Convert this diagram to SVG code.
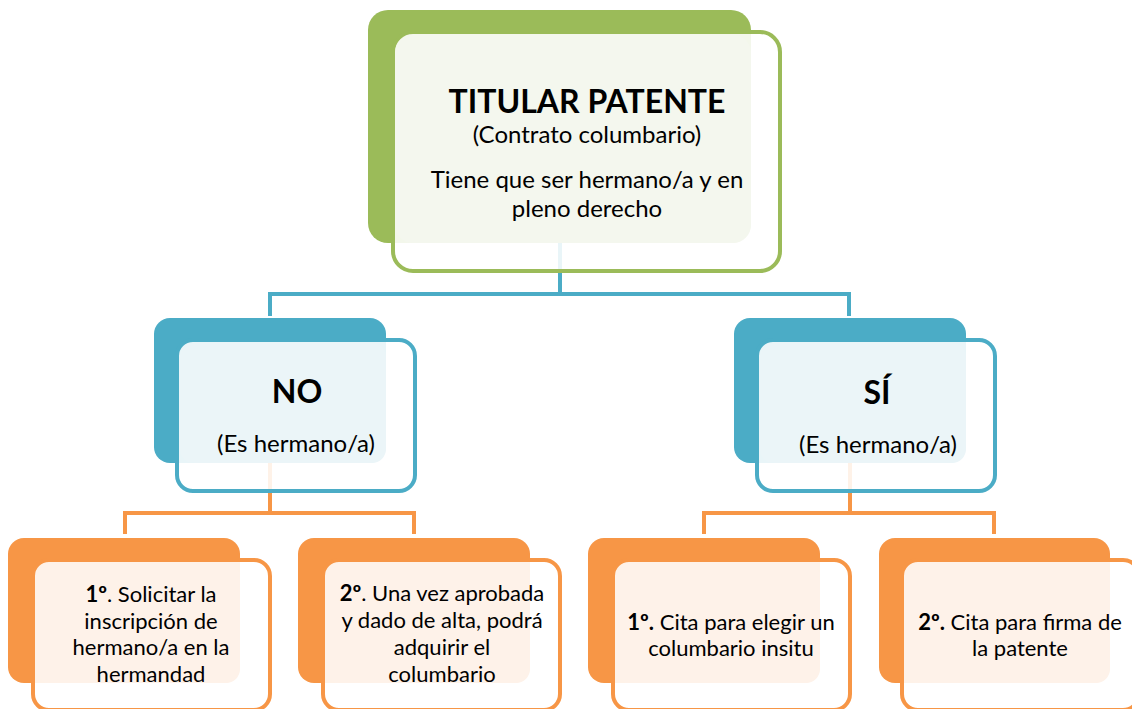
<svg xmlns="http://www.w3.org/2000/svg" width="1132" height="709" viewBox="0 0 1132 709">
<style>
.t{font-family:Lato,"Open Sans","Liberation Sans",sans-serif;fill:#000;text-anchor:middle}
.b{font-weight:bold}
.m{font-size:24px}
.s{font-size:22px}
.wg{fill:#fff;fill-opacity:0.88;stroke:#9BBB59;stroke-width:4}
.wb{fill:#fff;fill-opacity:0.88;stroke:#4BACC6;stroke-width:4}
.wo{fill:#fff;fill-opacity:0.88;stroke:#F79646;stroke-width:4}
.cb{fill:none;stroke:#4BACC6;stroke-width:4}
.co{fill:none;stroke:#F79646;stroke-width:4}
</style>
<rect width="1132" height="709" fill="#fff"/>
<g id="connectors">
<path class="cb" d="M560,243 V294 M270,316 V294 H849 V316"/>
<path class="co" d="M270,463 V513 M125,534 V513 H414 V534"/>
<path class="co" d="M850,463 V513 M704,534 V513 H994 V534"/>
</g>
<g id="titular">
<rect x="368" y="10" width="383" height="233" rx="20" fill="#9BBB59"/>
<rect class="wg" x="393" y="32" width="387" height="239" rx="20"/>
<rect x="395" y="35" width="356" height="208" rx="18" fill="#F4F7EE"/>
<text class="t b" x="587" y="113" font-size="32">TITULAR PATENTE</text>
<text class="t m" x="587" y="143">(Contrato columbario)</text>
<text class="t m" x="587" y="188">Tiene que ser hermano/a y en</text>
<text class="t m" x="587" y="217">pleno derecho</text>
</g>
<g id="no">
<rect x="154" y="318" width="232" height="145" rx="16" fill="#4BACC6"/>
<rect class="wb" x="177" y="340" width="238" height="151" rx="16"/>
<rect x="180" y="343" width="206" height="120" rx="14" fill="#EBF5F8"/>
<text class="t b" x="297" y="403" font-size="32">NO</text>
<text class="t m" x="296" y="452">(Es hermano/a)</text>
</g>
<g id="si">
<rect x="734" y="318" width="232" height="145" rx="16" fill="#4BACC6"/>
<rect class="wb" x="757" y="340" width="238" height="151" rx="16"/>
<rect x="760" y="343" width="206" height="120" rx="14" fill="#EBF5F8"/>
<text class="t b" x="877" y="404" font-size="32">SÍ</text>
<text class="t m" x="878" y="453">(Es hermano/a)</text>
</g>
<g id="no1">
<rect x="8" y="538" width="232" height="145" rx="16" fill="#F79646"/>
<rect class="wo" x="33" y="560" width="237" height="150" rx="16"/>
<rect x="36" y="563" width="204" height="120" rx="14" fill="#FEF2E9"/>
<text class="t s" x="151" y="602"><tspan class="b">1º</tspan>. Solicitar la</text>
<text class="t s" x="151" y="629">inscripción de</text>
<text class="t s" x="151" y="655">hermano/a en la</text>
<text class="t s" x="151" y="682">hermandad</text>
</g>
<g id="no2">
<rect x="298" y="538" width="232" height="145" rx="16" fill="#F79646"/>
<rect class="wo" x="323" y="560" width="237" height="150" rx="16"/>
<rect x="326" y="563" width="204" height="120" rx="14" fill="#FEF2E9"/>
<text class="t s" x="442" y="601"><tspan class="b">2º</tspan>. Una vez aprobada</text>
<text class="t s" x="442" y="628">y dado de alta, podrá</text>
<text class="t s" x="442" y="655">adquirir el</text>
<text class="t s" x="442" y="682">columbario</text>
</g>
<g id="si1">
<rect x="588" y="538" width="232" height="145" rx="16" fill="#F79646"/>
<rect class="wo" x="613" y="560" width="237" height="150" rx="16"/>
<rect x="616" y="563" width="204" height="120" rx="14" fill="#FEF2E9"/>
<text class="t s" x="731" y="630"><tspan class="b">1º.</tspan> Cita para elegir un</text>
<text class="t s" x="731" y="656">columbario insitu</text>
</g>
<g id="si2">
<rect x="879" y="538" width="231" height="145" rx="16" fill="#F79646"/>
<rect class="wo" x="902" y="560" width="237" height="150" rx="16"/>
<rect x="905" y="563" width="205" height="120" rx="14" fill="#FEF2E9"/>
<text class="t s" x="1020" y="630"><tspan class="b">2º.</tspan> Cita para firma de</text>
<text class="t s" x="1020" y="656">la patente</text>
</g>
</svg>
